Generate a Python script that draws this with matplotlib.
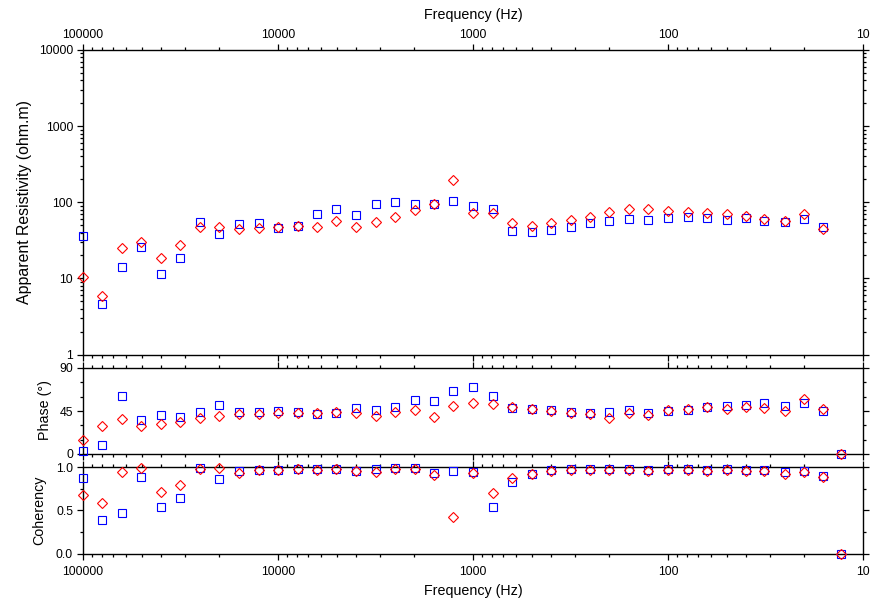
import numpy as np
import matplotlib
matplotlib.use("Agg")
import matplotlib.pyplot as plt
from matplotlib.ticker import FixedLocator, FuncFormatter, LogLocator, NullFormatter, MultipleLocator

plt.rcParams['font.family'] = ['Liberation Sans', 'DejaVu Sans']

# ---------------- data ----------------
# frequencies (Hz), 10 per decade from 100000 Hz downwards
freq = [100000, 79433, 63096, 50119, 39811, 31623, 25119, 19953, 15849, 12589,
        10000, 7943, 6310, 5012, 3981, 3162, 2512, 1995, 1585, 1259,
        1000, 794, 631, 501, 398, 316, 251, 200, 158, 126,
        100, 79, 63, 50, 40, 32, 25, 20, 16, 13]

rho_xy = [10.3, 5.9, 25.3, 30.3, 18.7, 27.4, 46.9, 47.7, 44.2, 46.3,
          47.7, 49.0, 47.7, 56.7, 47.7, 54.6, 64.7, 79.2, 95.0, 196.0,
          71.6, 73.0, 53.0, 48.8, 53.0, 58.5, 64.7, 74.5, 81.6, 82.4,
          76.9, 74.5, 71.6, 69.5, 66.0, 59.7, 57.3, 70.2, 45.0, np.nan]
rho_yx = [36.4, 4.6, 14.2, 25.6, 11.5, 18.7, 55.0, 38.3, 51.4, 53.0,
          46.3, 49.1, 70.8, 81.6, 68.0, 95.9, 102.0, 95.9, 95.9, 105.0,
          90.2, 81.6, 41.5, 40.3, 43.2, 47.7, 53.0, 56.2, 60.3, 58.5,
          61.5, 64.0, 62.8, 59.0, 61.5, 56.2, 54.6, 60.8, 46.9, np.nan]

phs_xy = [14.4, 29.4, 36.4, 29.8, 31.2, 33.6, 37.2, 39.6, 41.7, 41.4,
          43.0, 43.0, 43.0, 43.5, 43.0, 39.6, 44.1, 45.9, 38.2, 50.1,
          52.9, 52.2, 48.7, 46.9, 45.2, 43.2, 41.4, 37.2, 42.4, 40.6,
          45.9, 46.6, 49.4, 46.6, 49.4, 47.7, 44.8, 57.4, 46.9, 0.0]
phs_yx = [3.2, 9.5, 60.6, 35.4, 40.3, 38.9, 44.1, 51.1, 43.8, 43.8,
          44.5, 43.5, 42.0, 43.0, 48.0, 46.2, 49.4, 56.4, 55.7, 66.2,
          69.7, 60.6, 47.7, 47.4, 45.6, 44.1, 43.0, 43.5, 46.0, 43.0,
          44.8, 46.0, 49.4, 50.1, 51.5, 52.9, 50.1, 53.6, 45.2, 0.0]

coh_xy = [0.676, 0.579, 0.938, 0.985, 0.710, 0.795, 0.977, 0.992, 0.927, 0.962,
          0.966, 0.977, 0.966, 0.977, 0.950, 0.946, 0.973, 0.977, 0.904, 0.417,
          0.927, 0.695, 0.869, 0.920, 0.958, 0.966, 0.966, 0.962, 0.966, 0.954,
          0.969, 0.966, 0.954, 0.966, 0.954, 0.958, 0.920, 0.942, 0.888, 0.0]
coh_yx = [0.876, 0.382, 0.470, 0.884, 0.540, 0.641, 0.985, 0.857, 0.954, 0.962,
          0.966, 0.977, 0.977, 0.977, 0.958, 0.973, 0.985, 0.985, 0.934, 0.954,
          0.942, 0.536, 0.822, 0.915, 0.962, 0.973, 0.977, 0.977, 0.973, 0.966,
          0.977, 0.977, 0.966, 0.977, 0.966, 0.966, 0.942, 0.958, 0.896, 0.0]

xticks = [100000, 10000, 1000, 100, 10]

# ---------------- figure ----------------
W, H = 888, 605
fig = plt.figure(figsize=(W / 100, H / 100), dpi=100)

def box(x0, y0, x1, y1):
    return [x0 / W, 1 - y1 / H, (x1 - x0) / W, (y1 - y0) / H]

ax1 = fig.add_axes(box(83, 50, 863, 354.5))
ax2 = fig.add_axes(box(83, 368, 863, 454))
ax3 = fig.add_axes(box(83, 467, 863, 553.5))

blue = '#0000ff'
red = '#ff0000'
mk = dict(linestyle='none', markerfacecolor='none', markeredgewidth=0.8, clip_on=False)

for ax, yx, xy in [(ax1, rho_yx, rho_xy), (ax2, phs_yx, phs_xy), (ax3, coh_yx, coh_xy)]:
    ax.plot(freq, yx, marker='s', markersize=5.3, markeredgecolor=blue, zorder=3, **mk)
    ax.plot(freq, xy, marker='D', markersize=5.1, markeredgecolor=red, zorder=4, **mk)
    ax.set_xscale('log')
    ax.set_xlim(100000, 10)
    ax.xaxis.set_major_locator(FixedLocator(xticks))
    ax.xaxis.set_minor_locator(LogLocator(base=10, subs=np.arange(2, 10)))
    ax.xaxis.set_major_formatter(FuncFormatter(lambda v, p: '%d' % round(v)))
    ax.xaxis.set_minor_formatter(NullFormatter())
    ax.tick_params(which='both', direction='out', top=True, bottom=True, left=True, right=True,
                   labeltop=False, labelbottom=False, labelleft=True, labelright=False,
                   labelsize=8.8, width=0.9, pad=3.2)
    ax.tick_params(which='major', length=4.0)
    ax.tick_params(which='minor', length=2.0)
    for s in ax.spines.values():
        s.set_linewidth(1.0)

# rho panel
ax1.set_yscale('log')
ax1.set_ylim(1, 10000)
ax1.yaxis.set_major_locator(FixedLocator([1, 10, 100, 1000, 10000]))
ax1.yaxis.set_minor_locator(LogLocator(base=10, subs=np.arange(2, 10)))
ax1.yaxis.set_major_formatter(FuncFormatter(lambda v, p: '%d' % round(v)))
ax1.yaxis.set_minor_formatter(NullFormatter())
ax1.tick_params(axis='x', labeltop=True, pad=2.3)

# phase panel
ax2.set_ylim(0, 90)
ax2.yaxis.set_major_locator(FixedLocator([0, 45, 90]))
ax2.yaxis.set_minor_locator(MultipleLocator(15))

# coherency panel
ax3.set_ylim(0, 1.0)
ax3.yaxis.set_major_locator(FixedLocator([0.0, 0.5, 1.0]))
ax3.yaxis.set_minor_locator(MultipleLocator(0.25))
ax3.yaxis.set_major_formatter(FuncFormatter(lambda v, p: '%.1f' % v))
ax3.tick_params(axis='x', labelbottom=True, pad=5.0)

# labels
lab = dict(fontsize=10.3)
fig.text(473 / W, 1 - 15 / H, 'Frequency (Hz)', ha='center', va='center', **lab)
fig.text(473 / W, 1 - 591 / H, 'Frequency (Hz)', ha='center', va='center', **lab)
fig.text(25 / W, 1 - 202 / H, 'Apparent Resistivity (ohm.m)', rotation=90, ha='center', va='center',
         fontsize=11.4)
fig.text(45 / W, 1 - 410 / H, 'Phase (°)', rotation=90, ha='center', va='center', **lab)
fig.text(39 / W, 1 - 510 / H, 'Coherency', rotation=90, ha='center', va='center', **lab)

fig.savefig('out.png', dpi=100)
